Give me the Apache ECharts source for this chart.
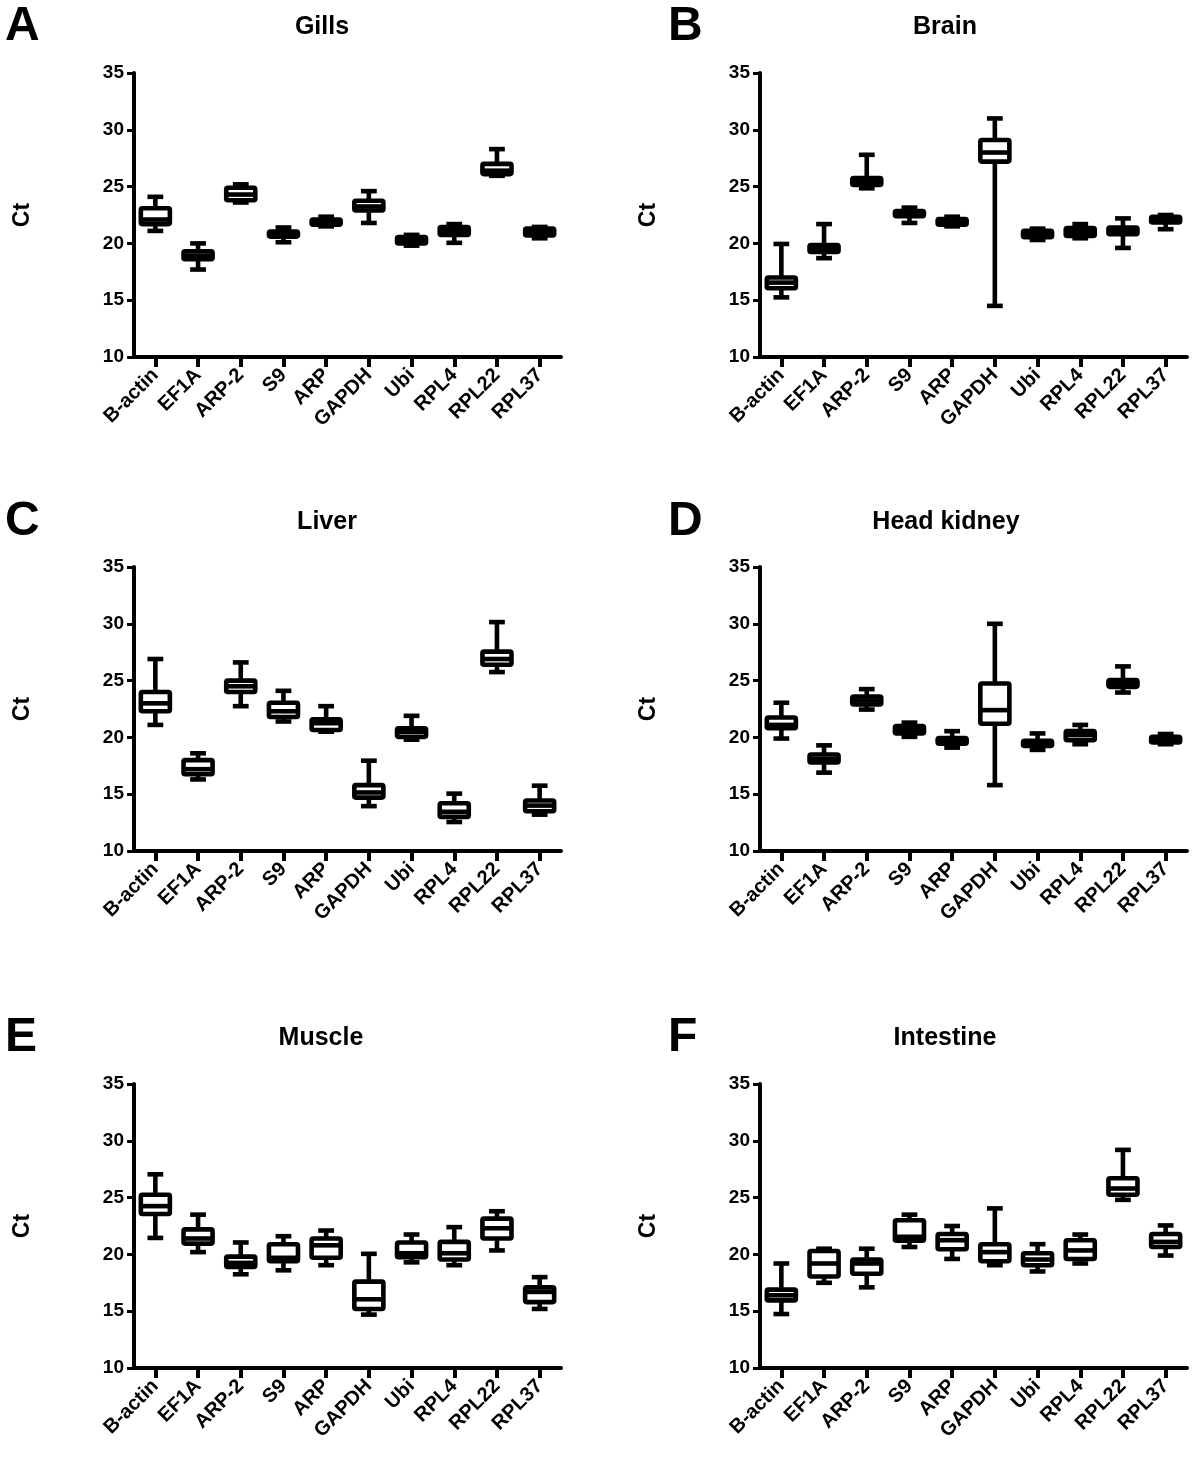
<!DOCTYPE html>
<html>
<head>
<meta charset="utf-8">
<script src="https://cdn.jsdelivr.net/npm/echarts@6/dist/echarts.min.js"></script>
<style>
html,body{margin:0;padding:0;background:#fff;}
#chart{width:1200px;height:1471px;}
</style>
</head>
<body>
<div id="chart"></div>
<script>
// Categories (genes)
const categories = ['B-actin','EF1A','ARP-2','S9','ARP','GAPDH','Ubi','RPL4','RPL22','RPL37'];
// Y-axis ticks
const yMin = 10, yMax = 35, yStep = 5;
// Panel letters and titles
const panelLetters = ['A','B','C','D','E','F'];
const panelTitles = ['Gills','Brain','Liver','Head kidney','Muscle','Intestine'];

// Each entry: [min, Q1, median, Q3, max]
const gills = [
  [21.1, 21.7, 22.1, 23.1, 24.1],
  [17.7, 18.6, 18.9, 19.3, 20.0],
  [23.6, 23.8, 24.3, 24.9, 25.2],
  [20.1, 20.6, 20.75, 21.05, 21.4],
  [21.5, 21.65, 21.9, 22.1, 22.35],
  [21.8, 22.9, 23.25, 23.75, 24.6],
  [19.8, 20.0, 20.3, 20.55, 20.75],
  [20.05, 20.75, 21.1, 21.45, 21.7],
  [25.95, 26.1, 26.4, 27.0, 28.3],
  [20.45, 20.7, 21.0, 21.3, 21.45]
];
const brain = [
  [15.25, 16.05, 16.55, 17.0, 19.95],
  [18.7, 19.25, 19.55, 19.85, 21.7],
  [24.85, 25.15, 25.45, 25.75, 27.8],
  [21.8, 22.4, 22.6, 22.85, 23.15],
  [21.5, 21.65, 21.9, 22.15, 22.35],
  [14.5, 27.2, 28.0, 29.1, 31.0],
  [20.3, 20.55, 20.85, 21.1, 21.3],
  [20.45, 20.65, 21.0, 21.35, 21.7],
  [19.6, 20.8, 21.1, 21.4, 22.2],
  [21.25, 21.85, 22.1, 22.35, 22.5]
];
const liver = [
  [21.1, 22.3, 23.0, 24.0, 26.9],
  [16.3, 16.75, 17.2, 18.0, 18.6],
  [22.75, 24.0, 24.5, 25.0, 26.6],
  [21.4, 21.8, 22.3, 23.05, 24.1],
  [20.5, 20.65, 21.25, 21.6, 22.75],
  [13.95, 14.7, 15.15, 15.8, 17.95],
  [19.8, 20.05, 20.5, 20.8, 21.9],
  [12.55, 13.0, 13.45, 14.2, 15.05],
  [25.75, 26.4, 26.9, 27.55, 30.15],
  [13.2, 13.5, 14.0, 14.45, 15.75]
];
const headKidney = [
  [19.9, 20.8, 21.1, 21.75, 23.05],
  [16.9, 17.8, 18.1, 18.5, 19.3],
  [22.45, 22.9, 23.25, 23.6, 24.25],
  [20.05, 20.35, 20.75, 21.0, 21.3],
  [19.1, 19.45, 19.75, 19.95, 20.55],
  [15.8, 21.2, 22.4, 24.75, 30.0],
  [18.9, 19.25, 19.5, 19.7, 20.35],
  [19.4, 19.75, 20.2, 20.55, 21.1],
  [23.95, 24.45, 24.75, 25.05, 26.25],
  [19.4, 19.55, 19.75, 20.05, 20.3]
];
const muscle = [
  [21.45, 23.55, 24.25, 25.25, 27.05],
  [20.2, 20.95, 21.4, 22.2, 23.5],
  [18.25, 18.9, 19.25, 19.8, 21.05],
  [18.6, 19.4, 19.7, 20.9, 21.6],
  [19.05, 19.7, 20.8, 21.4, 22.1],
  [14.7, 15.2, 16.05, 17.6, 20.05],
  [19.3, 19.75, 20.1, 21.05, 21.75],
  [19.05, 19.55, 20.1, 21.1, 22.4],
  [20.35, 21.4, 22.3, 23.15, 23.8],
  [15.2, 15.8, 16.7, 17.1, 18.0]
];
const intestine = [
  [14.75, 15.95, 16.4, 16.9, 19.2],
  [17.5, 18.05, 19.2, 20.3, 20.5],
  [17.1, 18.3, 19.2, 19.55, 20.5],
  [20.65, 21.2, 21.55, 23.0, 23.5],
  [19.6, 20.45, 21.25, 21.8, 22.5],
  [19.05, 19.4, 20.2, 20.9, 24.05],
  [18.5, 19.05, 19.55, 20.1, 20.9],
  [19.2, 19.6, 20.35, 21.25, 21.75],
  [24.8, 25.25, 25.8, 26.7, 29.2],
  [19.9, 20.65, 21.1, 21.8, 22.55]
];

const panelData = [gills, brain, liver, headKidney, muscle, intestine];

// Layout (pixels)
const gridLefts = [134, 760];
const gridTops = [73, 567, 1084];
const gridW = 427, gridH = 284;
const titleX = [[322, 945], [327, 946], [321, 945]];
const titleY = [27, 522, 1038];
const letterX = [5, 668];

const FONT = '"Liberation Sans", Arial, Helvetica, sans-serif';
const LW = 4;
const BLW = 4.6;

function renderBox(params, api) {
  const x = api.value(0);
  const pMin = api.coord([x, api.value(1)]);
  const pQ1 = api.coord([x, api.value(2)]);
  const pMed = api.coord([x, api.value(3)]);
  const pQ3 = api.coord([x, api.value(4)]);
  const pMax = api.coord([x, api.value(5)]);
  const band = api.size([1, 0])[0];
  const bw = band * 0.68, cw = band * 0.37;
  const cx = pMin[0];
  const ls = {stroke: '#000', lineWidth: BLW, fill: null};
  return {
    type: 'group',
    children: [
      {type: 'line', shape: {x1: cx, y1: pMax[1], x2: cx, y2: pQ3[1]}, style: ls},
      {type: 'line', shape: {x1: cx, y1: pQ1[1], x2: cx, y2: pMin[1]}, style: ls},
      {type: 'line', shape: {x1: cx - cw / 2, y1: pMax[1], x2: cx + cw / 2, y2: pMax[1]}, style: ls},
      {type: 'line', shape: {x1: cx - cw / 2, y1: pMin[1], x2: cx + cw / 2, y2: pMin[1]}, style: ls},
      {type: 'rect', shape: {x: cx - bw / 2, y: pQ3[1], width: bw, height: pQ1[1] - pQ3[1], r: 1.5},
        style: {stroke: '#000', lineWidth: BLW, fill: '#fff'}},
      {type: 'line', shape: {x1: cx - bw / 2, y1: pMed[1], x2: cx + bw / 2, y2: pMed[1]}, style: ls}
    ]
  };
}

const grids = [], xAxes = [], yAxes = [], series = [], graphics = [];
for (let p = 0; p < 6; p++) {
  const col = p % 2, row = Math.floor(p / 2);
  grids.push({left: gridLefts[col], top: gridTops[row], width: gridW, height: gridH, containLabel: false});
  xAxes.push({
    type: 'category', gridIndex: p, data: categories,
    axisLine: {show: true, lineStyle: {color: '#000', width: LW}},
    axisTick: {show: true, alignWithLabel: true, length: 10, lineStyle: {color: '#000', width: 4}},
    axisLabel: {rotate: 45, interval: 0, color: '#000', fontWeight: 'bold', fontSize: 20, fontFamily: FONT, margin: 15},
    splitLine: {show: false}
  });
  yAxes.push({
    type: 'value', gridIndex: p, min: yMin, max: yMax, interval: yStep,
    name: 'Ct', nameLocation: 'middle', nameGap: 100,
    nameTextStyle: {color: '#000', fontWeight: 'bold', fontSize: 23, fontFamily: FONT},
    axisLine: {show: true, lineStyle: {color: '#000', width: LW}},
    axisTick: {show: true, length: 7, lineStyle: {color: '#000', width: 3}},
    axisLabel: {color: '#000', fontWeight: 'bold', fontSize: 19, fontFamily: FONT, margin: 10},
    splitLine: {show: false}
  });
  series.push({
    type: 'custom', xAxisIndex: p, yAxisIndex: p,
    renderItem: renderBox,
    encode: {x: 0, y: [1, 2, 3, 4, 5]},
    data: panelData[p].map((v, i) => [i].concat(v)),
    clip: false
  });
  graphics.push({
    type: 'text', x: letterX[col], y: titleY[row],
    style: {text: panelLetters[p], fill: '#000', font: 'bold 48px ' + FONT, align: 'left', verticalAlign: 'middle'}
  });
  graphics.push({
    type: 'text', x: titleX[row][col], y: titleY[row],
    style: {text: panelTitles[p], fill: '#000', font: 'bold 25px ' + FONT, align: 'center', verticalAlign: 'middle'}
  });
}

const chart = echarts.init(document.getElementById('chart'), null, {renderer: 'canvas'});
chart.setOption({
  backgroundColor: '#fff',
  animation: false,
  grid: grids,
  xAxis: xAxes,
  yAxis: yAxes,
  series: series,
  graphic: graphics
});
</script>
</body>
</html>
